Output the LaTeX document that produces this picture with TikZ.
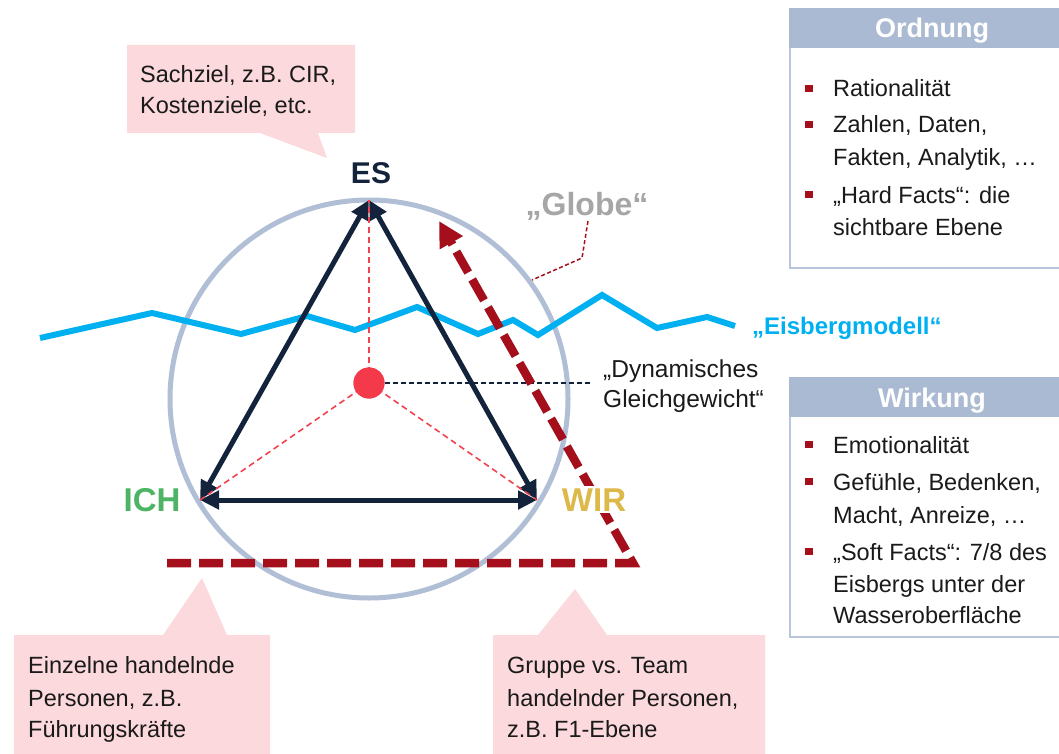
\documentclass[tikz,border=0pt]{standalone}
\usepackage{fontspec}
\setmainfont{Liberation Sans}
\usetikzlibrary{arrows.meta}
\definecolor{navy}{HTML}{14233C}
\definecolor{globe}{HTML}{B0BFD6}
\definecolor{ice}{HTML}{00B0F0}
\definecolor{darkred}{HTML}{A50F1B}
\definecolor{lightred}{HTML}{F2424E}
\definecolor{dotred}{HTML}{F43A4A}
\definecolor{pinkbg}{HTML}{FCD9DC}
\definecolor{hdr}{HTML}{ABBAD3}
\definecolor{boxline}{HTML}{B8C5DA}
\definecolor{ichgreen}{HTML}{4CB464}
\definecolor{wiryellow}{HTML}{DDB94A}
\definecolor{globegray}{HTML}{A6A6A6}
\definecolor{txt}{HTML}{1A1A1A}
\begin{document}
\begin{tikzpicture}[x=1pt,y=-1pt,
  txtline/.style={anchor=base west, inner sep=0pt, text=txt, font=\fontsize{23.5}{33}\selectfont},
  callout/.style={fill=pinkbg},
  bullet/.style={fill=darkred},
  hdrtext/.style={anchor=base, inner sep=0pt, text=white, font=\fontsize{27}{30}\selectfont\bfseries},
  navyarrow/.style={draw=navy, line width=5pt, {Triangle[length=19pt,width=18pt]}-{Triangle[length=19pt,width=18pt]}},
  reddash/.style={draw=lightred, line width=1.6pt, dash pattern=on 6pt off 4pt},
  bigred/.style={draw=darkred, line width=8.5pt, dash pattern=on 24pt off 8pt, line join=miter},
  vlabel/.style={anchor=base, inner sep=0pt, font=\fontsize{33}{36}\selectfont\bfseries}
]
\path[use as bounding box] (0,0) rectangle (1059,754);
\fill[white] (0,0) rectangle (1059,754);

% globe
\draw[globe, line width=5pt] (369,399) circle[radius=199pt];

% iceberg line
\draw[ice, line width=6pt, line join=miter] (40,338) -- (152,313) -- (241,334) -- (307,316) -- (355,330) -- (417,307) -- (478,334) -- (513,320) -- (538,335) -- (602,295) -- (657,328) -- (707,317) -- (735,326);
\node[anchor=base west, inner sep=0pt, text=ice, font=\fontsize{24}{28}\selectfont\bfseries] (eis) at (752,334) {„Eisbergmodell“};

% vertices
\coordinate (vES) at (369,200);
\coordinate (vICH) at (200,500);
\coordinate (vWIR) at (537,500);
\node[circle, fill=dotred, minimum size=31pt, inner sep=0pt] (dot) at (369,383) {};

% triangle
\draw[navyarrow] (vES) -- (vICH);
\draw[navyarrow] (vES) -- (vWIR);
\draw[navyarrow] (vICH) -- (vWIR);

% red thin dashes
\draw[reddash] (dot.center) -- (vES);
\draw[reddash] (dot.center) -- (vICH);
\draw[reddash] (dot.center) -- (vWIR);
\node[circle, fill=dotred, minimum size=31pt, inner sep=0pt] (dottop) at (dot) {};

% dynamisches
\coordinate (dynend) at (590,383);
\draw[navy, line width=1.3pt, dash pattern=on 5pt off 3pt] (dot.east) -- (dynend);
\node[txtline, font=\fontsize{24.5}{30}\selectfont] (dyn1) at (603,377) {„Dynamisches};
\node[txtline, font=\fontsize{24.5}{30}\selectfont] (dyn2) at (603,407) {Gleichgewicht“};

% globe label
\node[anchor=base, inner sep=0pt, text=globegray, font=\fontsize{32}{36}\selectfont\bfseries] (globelbl) at (587,215) {„Globe“};
\coordinate (g1) at (588,221);
\coordinate (g2) at (582,258);
\coordinate (g3) at (532,280);
\draw[darkred, line width=1.5pt, dash pattern=on 4pt off 2.5pt] (g1) -- (g2) -- (g3);

% big red dashed path
\coordinate (hstart) at (167,563);
\coordinate (corner) at (633,563);
\coordinate (tip) at (439,221);
\draw[bigred, -{Triangle[length=25pt,width=25pt]}] (hstart) -- (corner) -- (tip);

% labels
\node[vlabel, text=navy, font=\fontsize{30}{34}\selectfont\bfseries] (es) at (371,183) {ES};
\node[vlabel, text=ichgreen] (ich) at (152,511) {ICH};
\node[vlabel, text=wiryellow, fill=white, inner sep=2pt] (wir) at (594,511) {WIR};

% callouts
\fill[callout] (127,45) -- (355,45) -- (355,133) -- (318,133) -- (327,158) -- (260,133) -- (127,133) -- cycle;
\node[txtline] (c1a) at (140,83) {Sachziel, z.B. CIR,};
\node[txtline] (c1b) at (140,114) {Kostenziele, etc.};
\fill[callout] (14,760) -- (14,635) -- (163,635) -- (202,578) -- (227,635) -- (270,635) -- (270,760) -- cycle;
\node[txtline] (c2a) at (28,673) {Einzelne handelnde};
\node[txtline] (c2b) at (28,706) {Personen, z.B.};
\node[txtline] (c2c) at (28,737) {Führungskräfte};
\fill[callout] (493,760) -- (493,635) -- (538,635) -- (575,589) -- (607,635) -- (765,635) -- (765,760) -- cycle;
\node[txtline] (c3a) at (507,673) {Gruppe vs. Team};
\node[txtline] (c3b) at (507,706) {handelnder Personen,};
\node[txtline] (c3c) at (507,737) {z.B. F1-Ebene};

% Ordnung box
\draw[boxline, line width=2pt] (790,9) rectangle (1075,268);
\fill[hdr] (789,8) rectangle (1075,48);
\node[hdrtext] (ord) at (932,38) {Ordnung};
\fill[bullet] (805,85) rectangle (813,92);
\node[txtline] (o1) at (833,97) {Rationalität};
\fill[bullet] (805,121) rectangle (813,128);
\node[txtline] (o2a) at (833,133) {Zahlen, Daten,};
\node[txtline] (o2b) at (833,166) {Fakten, Analytik, …};
\fill[bullet] (805,191) rectangle (813,198);
\node[txtline] (o3a) at (833,203) {„Hard Facts“: die};
\node[txtline] (o3b) at (833,235) {sichtbare Ebene};

% Wirkung box
\draw[boxline, line width=2pt] (790,378) rectangle (1075,637);
\fill[hdr] (789,377) rectangle (1075,417);
\node[hdrtext] (wirk) at (932,407) {Wirkung};
\fill[bullet] (805,441) rectangle (813,448);
\node[txtline] (w1) at (833,453) {Emotionalität};
\fill[bullet] (805,478) rectangle (813,485);
\node[txtline] (w2a) at (833,490) {Gefühle, Bedenken,};
\node[txtline] (w2b) at (833,523) {Macht, Anreize, …};
\fill[bullet] (805,548) rectangle (813,555);
\node[txtline] (w3a) at (833,560) {„Soft Facts“: 7/8 des};
\node[txtline] (w3b) at (833,592) {Eisbergs unter der};
\node[txtline] (w3c) at (833,623) {Wasseroberfläche};
\end{tikzpicture}
\end{document}
